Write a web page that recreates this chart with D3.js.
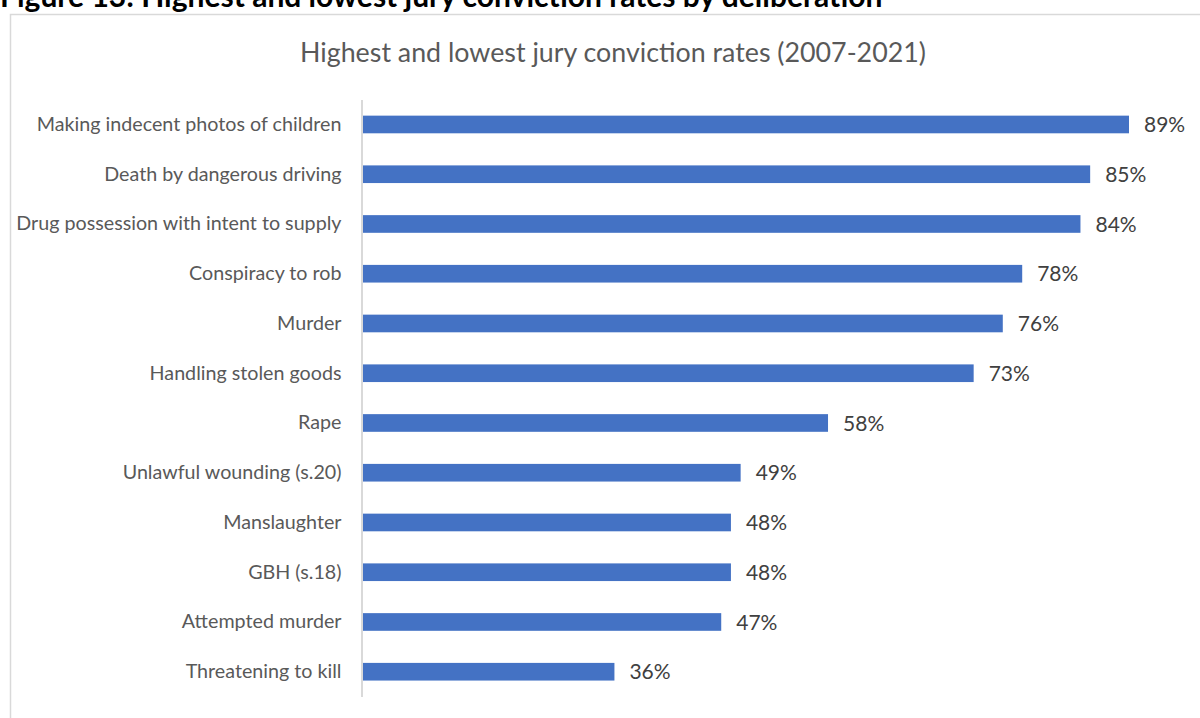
<!DOCTYPE html>
<html>
<head>
<meta charset="utf-8">
<script src="https://cdn.jsdelivr.net/npm/d3@7"></script>
<style>
  body { margin: 0; background: #fff; }
  svg { display: block; font-family: Lato, Carlito, Calibri, sans-serif; }
</style>
</head>
<body>
<div id="chart"></div>
<script>
// chart data
const offences = [
  "Making indecent photos of children",
  "Death by dangerous driving",
  "Drug possession with intent to supply",
  "Conspiracy to rob",
  "Murder",
  "Handling stolen goods",
  "Rape",
  "Unlawful wounding (s.20)",
  "Manslaughter",
  "GBH (s.18)",
  "Attempted murder",
  "Threatening to kill"
];
const convictionRates = [89, 85, 84, 78, 76, 73, 58, 49, 48, 48, 47, 36];
const axisDomain = [10, 100];

const W = 1200, H = 718;
const svg = d3.select("#chart").append("svg")
    .attr("width", W)
    .attr("height", H);

// figure caption, cut off by the top of the picture like in the source
svg.append("text")
    .attr("x", 0)
    .attr("y", 7)
    .attr("font-size", 30)
    .attr("font-weight", "bold")
    .attr("fill", "#000")
    .text("Figure 13: Highest and lowest jury conviction rates by deliberation");

// chart frame (runs off the right and bottom)
svg.append("rect")
    .attr("x", 10.5)
    .attr("y", 14.5)
    .attr("width", W + 20)
    .attr("height", H + 20)
    .attr("fill", "#fff")
    .attr("stroke", "#d9d9d9")
    .attr("stroke-width", 1.5);

svg.append("text")
    .attr("x", 613)
    .attr("y", 62)
    .attr("text-anchor", "middle")
    .attr("font-size", 26.8)
    .attr("fill", "#595959")
    .text("Highest and lowest jury conviction rates (2007-2021)");

const plot = {left: 362, top: 99.6, bottom: 696.6};

const x = d3.scaleLinear()
    .domain(axisDomain)
    .range([plot.left, plot.left + (1129 - plot.left) * (axisDomain[1] - axisDomain[0]) / (89 - axisDomain[0])]);

const y = d3.scaleBand()
    .domain(offences)
    .range([plot.top, plot.bottom])
    .paddingInner(0.645)
    .paddingOuter(0.3225);

// bars
svg.selectAll("rect.bar")
    .data(offences)
    .enter()
    .append("rect")
    .classed("bar", true)
    .attr("x", x(axisDomain[0]))
    .attr("y", d => y(d))
    .attr("width", (d, i) => x(convictionRates[i]) - x(axisDomain[0]))
    .attr("height", y.bandwidth())
    .attr("fill", "#4472c4");

// category axis
const yAxis = svg.append("g")
    .attr("transform", "translate(" + (plot.left - 0.5) + ",0)")
    .call(d3.axisLeft(y).tickSize(0).tickPadding(20));
yAxis.select(".domain")
    .attr("stroke", "#d9d9d9")
    .attr("stroke-width", 2);
yAxis.selectAll("text")
    .attr("font-size", 19.7)
    .attr("font-family", "Lato, Carlito, Calibri, sans-serif")
    .attr("fill", "#595959");

// value labels
svg.selectAll("text.val")
    .data(offences)
    .enter()
    .append("text")
    .classed("val", true)
    .attr("x", (d, i) => x(convictionRates[i]) + 15)
    .attr("y", d => y(d) + y.bandwidth() / 2)
    .attr("dy", "0.36em")
    .attr("font-size", 21)
    .attr("fill", "#404040")
    .text((d, i) => convictionRates[i] + "%");
</script>
</body>
</html>
